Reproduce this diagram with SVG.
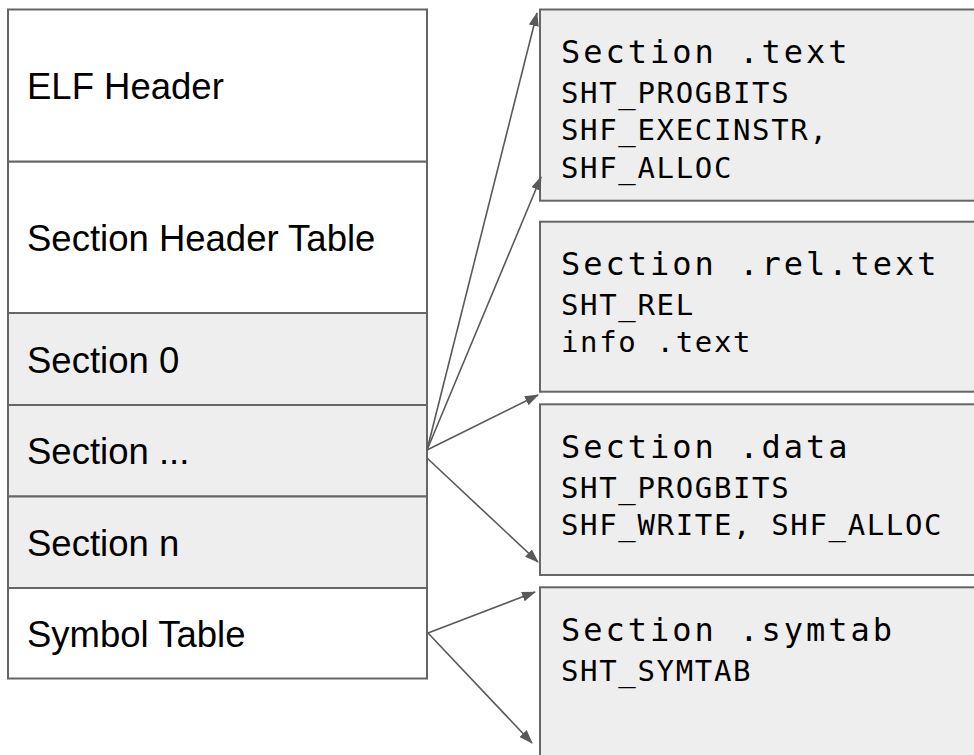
<svg xmlns="http://www.w3.org/2000/svg" width="974" height="755" viewBox="0 0 974 755">
<defs>
<style>
.cell{stroke:#666;stroke-width:2}
.w{fill:#fff}
.g{fill:#eee}
.lbl{font-family:"Liberation Sans",Arial,sans-serif;font-size:36.5px;fill:#000}
.t{font-family:"DejaVu Sans Mono",monospace;font-size:32px;letter-spacing:3px;fill:#000}
.s{font-family:"DejaVu Sans Mono",monospace;font-size:29px;letter-spacing:1.65px;fill:#000}
.conn{stroke:#595959;stroke-width:1.6;fill:none;marker-end:url(#ah)}
</style>
<marker id="ah" markerUnits="userSpaceOnUse" markerWidth="14" markerHeight="10" refX="13" refY="5" orient="auto">
<path d="M0,0 L14,5 L0,10 z" fill="#595959"/>
</marker>
</defs>
<rect x="0" y="0" width="974" height="755" fill="#fff"/>
<g id="elf-header"><rect class="cell w" x="8" y="9.5" width="419" height="152.2"/><text class="lbl" x="27" y="99">ELF Header</text></g>
<g id="section-header-table"><rect class="cell w" x="8" y="161.7" width="419" height="151.3"/><text class="lbl" x="27" y="251">Section Header Table</text></g>
<g id="section-0"><rect class="cell g" x="8" y="313" width="419" height="92"/><text class="lbl" x="27" y="372.5">Section 0</text></g>
<g id="section-dots"><rect class="cell g" x="8" y="405" width="419" height="91.5"/><text class="lbl" x="27" y="464">Section ...</text></g>
<g id="section-n"><rect class="cell g" x="8" y="496.5" width="419" height="91.5"/><text class="lbl" x="27" y="555.5">Section n</text></g>
<g id="symbol-table"><rect class="cell w" x="8" y="588" width="419" height="90.5"/><text class="lbl" x="27" y="646.5">Symbol Table</text></g>
<g id="sec-text"><rect class="cell g" x="540" y="9.5" width="450" height="191.2"/><text class="t" x="561" y="63">Section .text</text><text class="s" x="561" y="103">SHT_PROGBITS</text><text class="s" x="561" y="140">SHF_EXECINSTR,</text><text class="s" x="561" y="178">SHF_ALLOC</text></g>
<g id="sec-rel-text"><rect class="cell g" x="540" y="221.7" width="450" height="170"/><text class="t" x="561" y="275">Section .rel.text</text><text class="s" x="561" y="315">SHT_REL</text><text class="s" x="561" y="352">info .text</text></g>
<g id="sec-data"><rect class="cell g" x="540" y="404.3" width="450" height="170.7"/><text class="t" x="561" y="457.5">Section .data</text><text class="s" x="561" y="497.5">SHT_PROGBITS</text><text class="s" x="561" y="534.5">SHF_WRITE, SHF_ALLOC</text></g>
<g id="sec-symtab"><rect class="cell g" x="540" y="587.3" width="450" height="200"/><text class="t" x="561" y="641">Section .symtab</text><text class="s" x="561" y="681">SHT_SYMTAB</text></g>
<g id="connectors">
<line class="conn" x1="427" y1="450" x2="537" y2="13"/>
<line class="conn" x1="427" y1="450" x2="541" y2="177"/>
<line class="conn" x1="427" y1="450" x2="538" y2="395"/>
<line class="conn" x1="427" y1="458" x2="538" y2="562"/>
<line class="conn" x1="428" y1="633" x2="535" y2="592"/>
<line class="conn" x1="428" y1="633" x2="532" y2="743"/>
</g>
</svg>
